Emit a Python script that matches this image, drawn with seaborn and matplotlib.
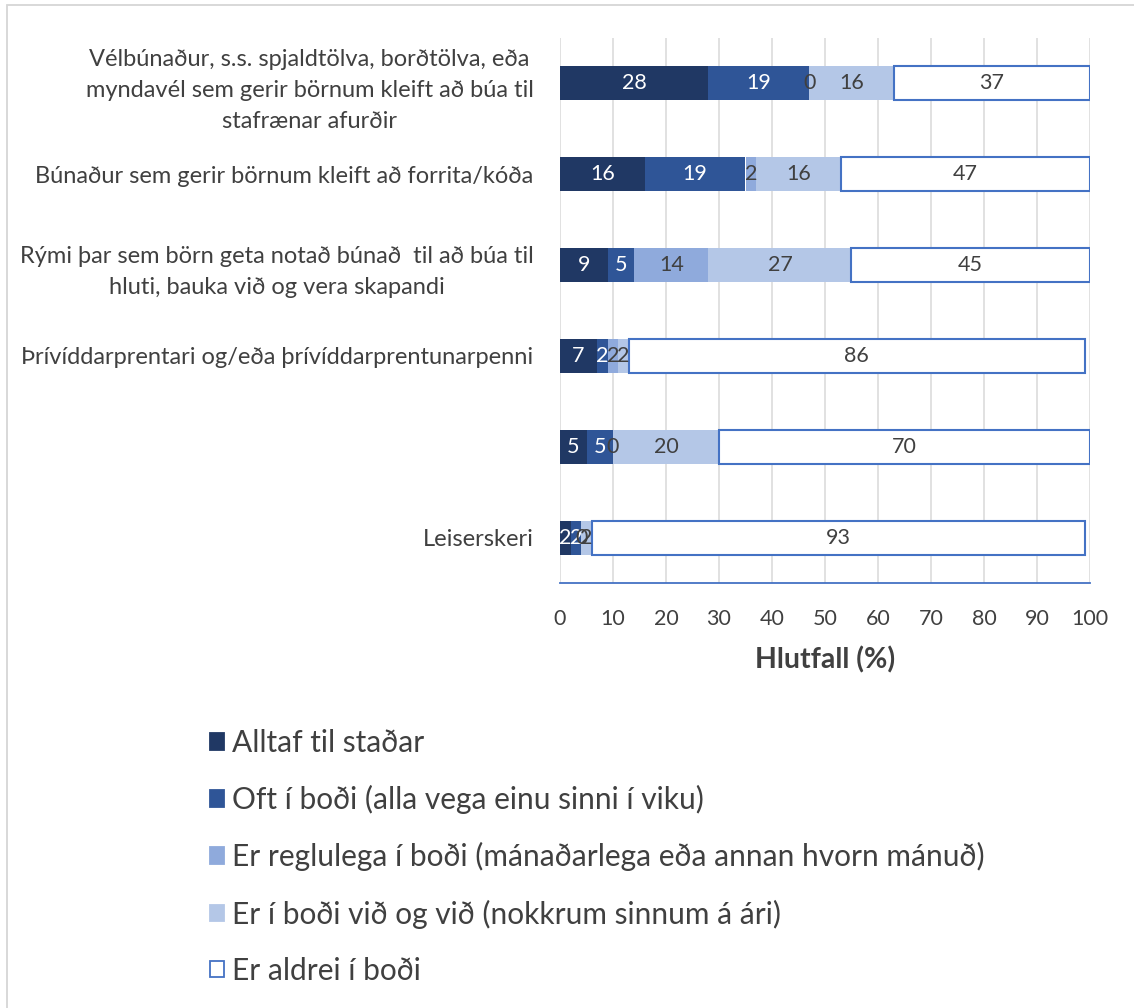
import matplotlib
matplotlib.use("Agg")
from matplotlib import pyplot as plt
from matplotlib.patches import Patch, Rectangle
from matplotlib.ticker import MultipleLocator
import numpy as np
import seaborn as sns

categories = [
    "Vélbúnaður, s.s. spjaldtölva, borðtölva, eða\nmyndavél sem gerir börnum kleift að búa til\nstafrænar afurðir",
    "Búnaður sem gerir börnum kleift að forrita/kóða",
    "Rými þar sem börn geta notað búnað  til að búa til\nhluti, bauka við og vera skapandi",
    "Þrívíddarprentari og/eða þrívíddarprentunarpenni",
    " ",
    "Leiserskeri",
]
series_names = [
    "Alltaf til staðar",
    "Oft í boði (alla vega einu sinni í viku)",
    "Er reglulega í boði (mánaðarlega eða annan hvorn mánuð)",
    "Er í boði við og við (nokkrum sinnum á ári)",
    "Er aldrei í boði",
]
alltaf = [28, 16, 9, 7, 5, 2]
oft = [19, 19, 5, 2, 5, 2]
reglulega = [0, 2, 14, 2, 0, 0]
vid_og_vid = [16, 16, 27, 2, 20, 2]
aldrei = [37, 47, 45, 86, 70, 93]
xticks = [0, 10, 20, 30, 40, 50, 60, 70, 80, 90, 100]

colors = ["#203864", "#2F5597", "#8FAADC", "#B4C7E7", "#FFFFFF"]
label_colors = ["white", "white", "#404040", "#404040", "#404040"]
edge_blue = "#4472C4"
text_color = "#404040"

sns.set_style("white")
plt.rcParams["font.family"] = ["Lato", "DejaVu Sans"]
plt.rcParams["text.color"] = text_color

fig = plt.figure(figsize=(11.34, 10.08), dpi=100)
ax = fig.add_axes([560 / 1134, 1 - 583 / 1008, 530 / 1134, 545 / 1008])

# stacked bars: one seaborn call per answer category, shifted by the running total
all_series = [alltaf, oft, reglulega, vid_og_vid, aldrei]
left = np.zeros(len(categories))
for name, vals, col, lcol in zip(series_names, all_series, colors, label_colors):
    is_white = col == "#FFFFFF"
    sns.barplot(
        x=vals,
        y=categories,
        orient="h",
        left=left.copy(),
        color=col,
        saturation=1,
        width=0.375,
        errorbar=None,
        edgecolor=edge_blue if is_white else col,
        linewidth=1.5 if is_white else 0,
        ax=ax,
        zorder=3,
    )
    ax.bar_label(
        ax.containers[-1],
        labels=[str(v) for v in vals],
        label_type="center",
        color=lcol,
        fontsize=15.5,
        zorder=4,
    )
    left = left + np.array(vals)

ax.set_xlim(0, 100)
ax.set_ylim(5.5, -0.5)
ax.xaxis.set_major_locator(MultipleLocator(10))
ax.xaxis.set_minor_locator(MultipleLocator(5))
ax.set_xticks(xticks)
ax.grid(axis="x", color="#D9D9D9", linewidth=1.1, zorder=0)
ax.set_axisbelow(True)
for side in ["top", "right", "left"]:
    ax.spines[side].set_visible(False)
ax.spines["bottom"].set_color(edge_blue)
ax.spines["bottom"].set_linewidth(1.3)
ax.tick_params(axis="x", which="major", direction="inout", length=10.8, width=1.3,
               color=edge_blue, labelsize=15.5, labelcolor=text_color, pad=13)
ax.tick_params(axis="x", which="minor", direction="out", length=5, width=1.3,
               color=edge_blue)
ax.tick_params(axis="y", length=0, pad=19, labelsize=17, labelcolor=text_color)
for lab in ax.get_yticklabels():
    lab.set_multialignment("center")
    lab.set_linespacing(1.6)
ax.set_ylabel("")
ax.set_xlabel("Hlutfall (%)", fontsize=20.5, fontweight="bold", color=text_color,
              labelpad=13)

handles = [
    Patch(facecolor=c, edgecolor=edge_blue if c == "#FFFFFF" else c, linewidth=1.3)
    for c in colors
]
fig.legend(
    handles,
    series_names,
    loc="upper left",
    bbox_to_anchor=(210 / 1134, 1 - 729 / 1008),
    frameon=False,
    fontsize=21.5,
    handlelength=0.48,
    handleheight=0.48,
    handletextpad=0.25,
    labelspacing=0.94,
    borderpad=0,
    borderaxespad=0,
)

# light frame on the top and left edges, as in the cropped original
fig.patches.append(
    Rectangle((7 / 1134, -0.1), 1.2, 1.1 - 5 / 1008, transform=fig.transFigure,
              fill=False, edgecolor="#D6D6D6", linewidth=1.3)
)

fig.savefig("out.png", dpi=100)
